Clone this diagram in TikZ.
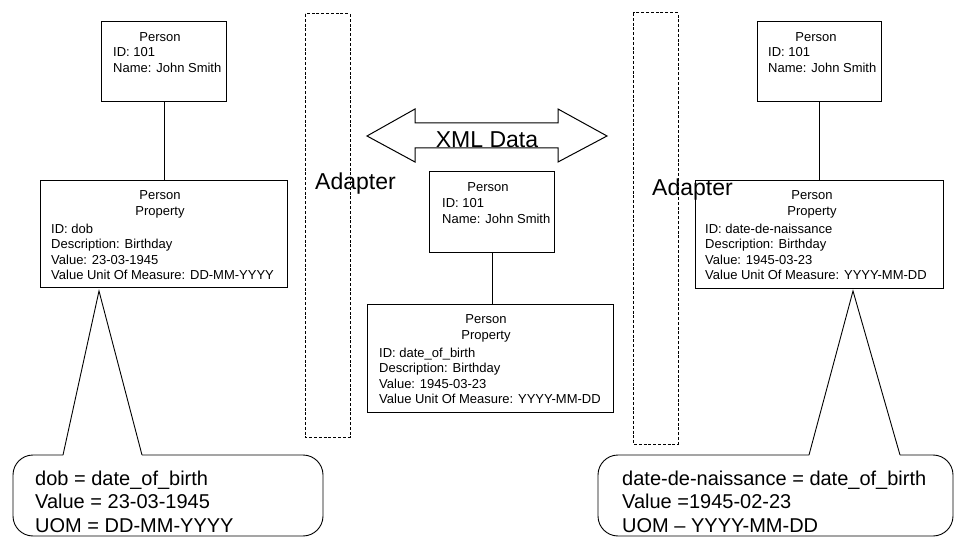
\documentclass[tikz,border=0pt]{standalone}
\usepackage{fontspec}
\setmainfont{Liberation Sans}
\begin{document}
\begin{tikzpicture}[x=1pt, y=-1pt,
    box/.style={draw, line width=0.9pt, inner sep=0pt, anchor=north west},
    adapter/.style={draw, line width=1pt, dash pattern=on 3pt off 1.8pt},
    head/.style={font=\fontsize{13}{16.5}\selectfont, align=center, inner sep=0pt},
    attr/.style={font=\fontsize{13}{15.6}\selectfont, align=left, inner sep=0pt, anchor=north west},
    big/.style={font=\fontsize{23}{27}\selectfont, inner sep=0pt, anchor=base west},
    note/.style={font=\fontsize{20}{23.5}\selectfont, align=left, inner sep=0pt, anchor=north west}]
  \useasboundingbox (0,0) rectangle (956,537);

  % Adapters
  \draw[adapter] (305,14) rectangle (350,437);
  \draw[adapter] (633,13) rectangle (678,444);
  \node[big] (adl) at (315,190) {Adapter};
  \node[big] (adr) at (652,196) {Adapter};

  % XML data arrow
  \draw[line width=1pt] (367,136) -- (415,109) -- (415,123) -- (558,123) -- (558,109)
    -- (607,136) -- (558,162) -- (558,148) -- (415,148) -- (415,162) -- cycle;
  \node[big, anchor=base] (xml) at (487,147.5) {XML Data};

  % Left system
  \node[box, minimum width=125pt, minimum height=80pt] (pl) at (101,21) {};
  \node[head] (plh) at (160,37) {Person};
  \node[attr] (pla) at (113,47.5) {ID: 101\\Name: John Smith};
  \node[box, minimum width=247pt, minimum height=107pt] (ppl) at (40,180) {};
  \node[head] (pplh) at (160,204.5) {Person\\Property};
  \node[attr] (ppla) at (51,223.5) {ID: dob\\Description: Birthday\\Value: 23-03-1945\\Value Unit Of Measure: DD-MM-YYYY};
  \draw[line width=0.9pt] (pl.south) -- (ppl.north);

  % Centre (exchanged data)
  \node[box, minimum width=125pt, minimum height=81pt] (pc) at (429,171) {};
  \node[head] (pch) at (488,187) {Person};
  \node[attr] (pca) at (442,198.5) {ID: 101\\Name: John Smith};
  \node[box, minimum width=246pt, minimum height=108pt] (ppc) at (367,304) {};
  \node[head] (ppch) at (486,328.5) {Person\\Property};
  \node[attr] (ppca) at (379,347.5) {ID: date\_of\_birth\\Description: Birthday\\Value: 1945-03-23\\Value Unit Of Measure: YYYY-MM-DD};
  \draw[line width=0.9pt] (pc.south) -- (pc.south |- ppc.north);

  % Right system
  \node[box, minimum width=124pt, minimum height=80pt] (pr) at (757,21) {};
  \node[head] (prh) at (816,37) {Person};
  \node[attr] (pra) at (768,47.5) {ID: 101\\Name: John Smith};
  \node[box, minimum width=248pt, minimum height=108pt] (ppr) at (695,180) {};
  \node[head] (pprh) at (812,204.5) {Person\\Property};
  \node[attr] (ppra) at (705,223.5) {ID: date-de-naissance\\Description: Birthday\\Value: 1945-03-23\\Value Unit Of Measure: YYYY-MM-DD};
  \draw[line width=0.9pt] (pr.south) -- (ppr.north);

  % Callouts
  \coordinate (tipl) at (99,291);
  \coordinate (tipr) at (853,291);
  \draw[line width=0.9pt, rounded corners=20pt] (63,455) -- (13,455) -- (13,536) -- (323,536) -- (323,455) -- (142,455);
  \draw[line width=0.9pt] (63,455) -- (tipl) -- (142,455);
  \node[note] (nl) at (35,470.5) {dob = date\_of\_birth\\Value = 23-03-1945\\UOM = DD-MM-YYYY};
  \draw[line width=0.9pt, rounded corners=20pt] (809,455) -- (598,455) -- (598,536) -- (953,536) -- (953,455) -- (900,455);
  \draw[line width=0.9pt] (809,455) -- (tipr) -- (900,455);
  \node[note] (nr) at (622,470.5) {date-de-naissance = date\_of\_birth\\Value =1945-02-23\\UOM – YYYY-MM-DD};
\end{tikzpicture}
\end{document}
